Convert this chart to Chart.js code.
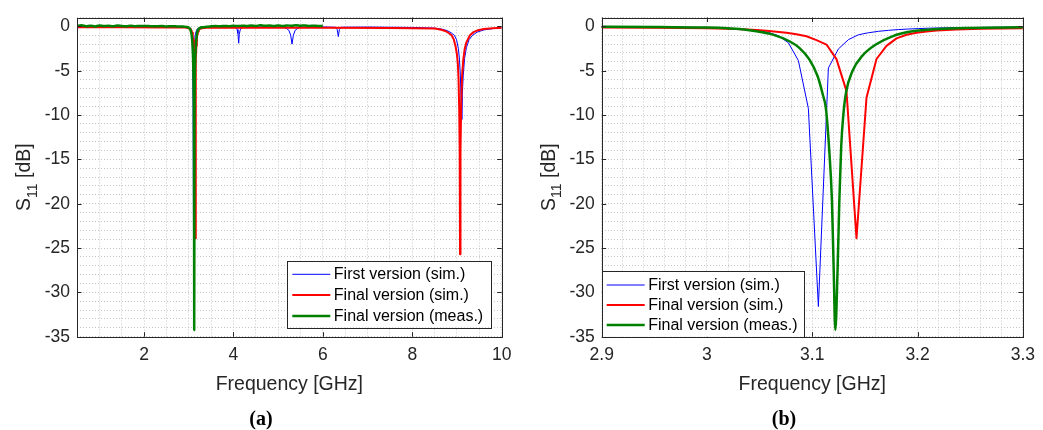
<!DOCTYPE html>
<html><head><meta charset="utf-8">
<script src="https://cdn.jsdelivr.net/npm/chart.js@4"></script>
<style>
html,body{margin:0;padding:0;background:#fff;}
#wrap{position:relative;width:1043px;height:430px;overflow:hidden;background:#fff;}
canvas{position:absolute;top:0;}
.cap{position:absolute;font:bold 20px "Liberation Serif",serif;color:#000;transform:translate(-50%,-50%);white-space:nowrap;}
</style></head><body>
<div id="wrap">
<canvas id="ca" width="520" height="430" style="left:0"></canvas>
<canvas id="cb" width="523" height="430" style="left:520px"></canvas>
<div class="cap" style="left:261px;top:418px">(a)</div>
<div class="cap" style="left:784px;top:418px">(b)</div>
</div>
<script>
// ---------------- DATA ----------------
const seriesNames = ['First version (sim.)', 'Final version (sim.)', 'Final version (meas.)'];

// First version (simulated) – frequency [GHz] and S11 [dB]
const firstSimFreq = [
  0.5, 1.0, 1.5, 2.0, 2.5, 2.8, 2.9, 2.95, 3.0, 3.0108,
  3.0203, 3.0298, 3.0393, 3.0488, 3.0583, 3.0678, 3.0773, 3.0868, 3.0963, 3.1058,
  3.1153, 3.1248, 3.1343, 3.1438, 3.1533, 3.1628, 3.1723, 3.1818, 3.1913, 3.2008,
  3.2103, 3.2198, 3.2293, 3.25, 3.28, 3.31, 3.5, 3.8, 4.0, 4.05,
  4.08, 4.1, 4.117, 4.13, 4.15, 4.18, 4.23, 4.6, 5.1, 5.18,
  5.24, 5.28, 5.31, 5.34, 5.38, 5.44, 5.52, 6.0, 6.28, 6.32,
  6.345, 6.37, 6.41, 7.0, 8.0, 8.5, 8.65, 8.78, 8.87, 8.94,
  8.99, 9.03, 9.055, 9.075, 9.09, 9.106, 9.12, 9.14, 9.17, 9.21,
  9.27, 9.35, 9.45, 9.6, 9.8, 10.0
];
const firstSimDb = [
  -0.02, -0.02, -0.03, -0.03, -0.04, -0.05, -0.05, -0.08, -0.12, -0.16,
  -0.2, -0.27, -0.35, -0.47, -0.68, -1.05, -1.85, -3.85, -9.25, -31.6,
  -4.7, -2.55, -1.5, -0.95, -0.72, -0.56, -0.45, -0.36, -0.3, -0.25,
  -0.21, -0.18, -0.16, -0.13, -0.1, -0.08, -0.05, -0.05, -0.08, -0.15,
  -0.35, -0.8, -1.9, -0.9, -0.4, -0.17, -0.08, -0.06, -0.1, -0.2,
  -0.45, -1.0, -2.0, -1.0, -0.45, -0.2, -0.1, -0.07, -0.1, -0.35,
  -1.15, -0.35, -0.1, -0.08, -0.12, -0.2, -0.3, -0.48, -0.72, -1.0,
  -1.5, -2.5, -3.7, -5.5, -8.0, -10.5, -7.5, -5.5, -3.6, -2.4,
  -1.5, -1.0, -0.65, -0.4, -0.25, -0.18
];

// Final version (simulated)
const finalSimFreq = [
  0.5, 1.5, 2.5, 2.9, 2.95, 3.0, 3.028, 3.0375, 3.047, 3.0565,
  3.066, 3.0755, 3.085, 3.0945, 3.104, 3.1135, 3.123, 3.1325, 3.142, 3.1515,
  3.161, 3.1705, 3.18, 3.1895, 3.199, 3.2085, 3.218, 3.2275, 3.237, 3.26,
  3.3, 3.4, 4.5, 6.0, 7.5, 8.0, 8.5, 8.65, 8.75, 8.82,
  8.88, 8.93, 8.97, 9.0, 9.02, 9.035, 9.05, 9.06, 9.068, 9.078,
  9.095, 9.115, 9.14, 9.17, 9.21, 9.29, 9.37, 9.47, 9.6, 9.8,
  10.0
];
const finalSimDb = [
  -0.1, -0.1, -0.12, -0.13, -0.16, -0.2, -0.3, -0.35, -0.42, -0.5,
  -0.6, -0.73, -0.9, -1.12, -1.55, -2.05, -3.7, -7.3, -23.9, -8.05,
  -3.68, -2.2, -1.35, -0.95, -0.72, -0.58, -0.48, -0.4, -0.34, -0.27,
  -0.2, -0.17, -0.16, -0.16, -0.18, -0.2, -0.25, -0.38, -0.55, -0.78,
  -1.0, -1.5, -2.3, -3.2, -4.3, -6.0, -9.5, -14, -25.7, -14,
  -8.5, -5.5, -3.8, -2.6, -1.8, -1.0, -0.65, -0.43, -0.3, -0.2,
  -0.16
];

// Final version (measured)
const finalMeasFreq = [
  0.5, 0.6, 0.7, 0.8, 0.9, 1.0, 1.1, 1.2, 1.3, 1.4,
  1.5, 1.6, 1.7, 1.8, 1.9, 2.0, 2.1, 2.2, 2.3, 2.4,
  2.5, 2.6, 2.7, 2.8, 2.85, 2.9, 2.95, 3.0, 3.02, 3.031,
  3.047, 3.0625, 3.0783, 3.0877, 3.0972, 3.105, 3.1098, 3.113, 3.1162, 3.1187,
  3.1203, 3.1219, 3.1241, 3.1257, 3.1275, 3.1295, 3.132, 3.1383, 3.1477, 3.1604,
  3.1761, 3.1951, 3.22, 3.25, 3.3, 3.4, 3.5, 3.6, 3.7, 3.8,
  3.9, 4.0, 4.1, 4.2, 4.3, 4.4, 4.5, 4.6, 4.7, 4.8,
  4.9, 5.0, 5.1, 5.2, 5.3, 5.4, 5.5, 5.6, 5.7, 5.8,
  5.9, 6.0
];
const finalMeasDb = [
  0.05, 0.12, 0.02, 0.08, -0.01, 0.1, 0.03, 0.07, 0.0, 0.09,
  0.04, 0.02, 0.06, 0.01, 0.05, 0.03, 0.04, 0.0, 0.02, 0.03,
  -0.01, 0.01, 0.0, -0.01, -0.02, -0.03, -0.06, -0.14, -0.22, -0.3,
  -0.56, -0.93, -1.68, -2.43, -3.73, -5.6, -7.6, -9.3, -14.1, -19.7,
  -27.2, -34.25, -27.2, -19.7, -13.5, -10.0, -7.5, -5.0, -3.3, -2.05,
  -1.12, -0.56, -0.3, -0.18, -0.1, -0.05, 0.0, 0.03, 0.01, 0.05,
  0.02, 0.06, 0.03, 0.08, 0.04, 0.1, 0.05, 0.12, 0.06, 0.1,
  0.04, 0.09, 0.05, 0.11, 0.06, 0.14, 0.07, 0.1, 0.05, 0.08,
  0.04, 0.06
];

// Axis ticks
const xMajorA = [2, 4, 6, 8, 10];
const xMajorB = [2.9, 3, 3.1, 3.2, 3.3];
const yMajor = [0, -5, -10, -15, -20, -25, -30, -35];

// ---------------- STYLE / LAYOUT ----------------
const TXT = '#262626';
const GRID = '#c6c6c6';
Chart.defaults.font.family = '"Liberation Sans", Arial, sans-serif';

const styles = [
  {color: '#0000ff', width: 1, legendWidth: 1, order: 3, smooth: false},
  {color: '#ff0000', width: 2, legendWidth: 2, order: 2, smooth: false},
  {color: '#008000', width: 2.5, legendWidth: 2.5, order: 1, smooth: true}
];
const seriesData = [
  [firstSimFreq, firstSimDb],
  [finalSimFreq, finalSimDb],
  [finalMeasFreq, finalMeasDb]
];

function stepTicks(min, max, step) {
  const out = [];
  const n = Math.round((max - min) / step);
  for (let i = 0; i <= n; i++) out.push({value: Math.round((min + i * step) * 10000) / 10000});
  return out;
}
function isMajor(list, v) { return list.some(m => Math.abs(m - v) < 1e-6); }

const framePlugin = {
  id: 'frame',
  afterDraw(chart, args, o) {
    const {ctx, chartArea: a, scales: {x, y}} = chart;
    ctx.save();
    // inward ticks
    ctx.strokeStyle = TXT; ctx.lineWidth = 1; ctx.setLineDash([]);
    ctx.beginPath();
    o.xMajor.forEach(v => {
      const p = Math.round(x.getPixelForValue(v)) + 0.5;
      ctx.moveTo(p, a.bottom); ctx.lineTo(p, a.bottom - 4.5);
      ctx.moveTo(p, a.top); ctx.lineTo(p, a.top + 4.5);
    });
    o.yMajor.forEach(v => {
      const p = Math.round(y.getPixelForValue(v)) + 0.5;
      ctx.moveTo(a.left, p); ctx.lineTo(a.left + 4.5, p);
      ctx.moveTo(a.right, p); ctx.lineTo(a.right - 4.5, p);
    });
    ctx.stroke();

    // legend
    const lg = o.legend;
    ctx.fillStyle = '#fff';
    ctx.fillRect(lg.x, lg.y, lg.w, lg.h);
    ctx.strokeStyle = TXT; ctx.lineWidth = 1;
    ctx.strokeRect(Math.round(lg.x) + 0.5, Math.round(lg.y) + 0.5, Math.round(lg.w), Math.round(lg.h));
    chart.data.datasets.forEach((ds, i) => {
      const yy = lg.y + lg.row0 + i * lg.rowH;
      ctx.strokeStyle = ds.borderColor; ctx.lineWidth = styles[i].legendWidth;
      ctx.beginPath(); ctx.moveTo(lg.x + 5, yy); ctx.lineTo(lg.x + 43, yy); ctx.stroke();
      ctx.fillStyle = '#000';
      ctx.font = '16px "Liberation Sans", Arial, sans-serif';
      ctx.textBaseline = 'middle'; ctx.textAlign = 'left';
      ctx.fillText(ds.label, lg.x + 46.5, yy + 0.5);
    });

    // box
    ctx.strokeStyle = TXT; ctx.lineWidth = 1;
    ctx.strokeRect(Math.round(a.left) + 0.5, Math.round(a.top) + 0.5,
                   Math.round(a.right) - Math.round(a.left), Math.round(a.bottom) - Math.round(a.top));

    // x title
    ctx.fillStyle = TXT;
    ctx.font = '19.5px "Liberation Sans", Arial, sans-serif';
    ctx.textAlign = 'center'; ctx.textBaseline = 'alphabetic';
    ctx.fillText('Frequency [GHz]', (a.left + a.right) / 2, a.bottom + 53);

    // y title S11 [dB] with subscript
    const big = '19.5px "Liberation Sans", Arial, sans-serif';
    const small = '14px "Liberation Sans", Arial, sans-serif';
    ctx.font = big; const w1 = ctx.measureText('S').width; const w3 = ctx.measureText(' [dB]').width;
    ctx.font = small; const w2 = ctx.measureText('11').width;
    const tot = w1 + w2 + w3;
    ctx.translate(a.left - 47, (a.top + a.bottom) / 2);
    ctx.rotate(-Math.PI / 2);
    ctx.textAlign = 'left';
    let cx = -tot / 2;
    ctx.font = big; ctx.fillText('S', cx, 0); cx += w1;
    ctx.font = small; ctx.fillText('11', cx, 6.5); cx += w2;
    ctx.font = big; ctx.fillText(' [dB]', cx, 0);
    ctx.restore();
  }
};

function makeChart(id, cfg) {
  const datasets = seriesNames.map((name, i) => ({
    label: name,
    data: seriesData[i][0].map((f, k) => ({x: f, y: seriesData[i][1][k]})),
    borderColor: styles[i].color,
    backgroundColor: styles[i].color,
    borderWidth: styles[i].width,
    order: styles[i].order,
    pointRadius: 0,
    fill: false,
    tension: 0,
    cubicInterpolationMode: styles[i].smooth ? 'monotone' : 'default',
    borderJoinStyle: 'round',
    clip: 0
  }));
  if (cfg.smoothGreen === false) datasets[2].cubicInterpolationMode = 'default';
  const tickFont = {family: '"Liberation Sans", Arial, sans-serif', size: 17.5};
  return new Chart(document.getElementById(id), {
    type: 'line',
    data: {datasets},
    options: {
      responsive: false,
      animation: false,
      devicePixelRatio: 1,
      layout: {padding: {top: cfg.top, right: cfg.right, bottom: 0, left: 0}},
      plugins: {
        legend: {display: false},
        tooltip: {enabled: false},
        frame: {xMajor: cfg.xMajor, yMajor: yMajor, legend: cfg.legend}
      },
      scales: {
        x: {
          type: 'linear', min: cfg.xMin, max: cfg.xMax,
          afterBuildTicks: s => { s.ticks = stepTicks(cfg.xMin, cfg.xMax, cfg.xStep); },
          afterFit: s => { s.height = 430 - cfg.bottom; },
          grid: {color: GRID, lineWidth: 1, drawTicks: false},
          border: {display: false, dash: [1, 2]},
          ticks: {
            autoSkip: false, maxRotation: 0, minRotation: 0, padding: 8,
            font: tickFont, color: TXT,
            callback: v => isMajor(cfg.xMajor, v) ? String(cfg.xMajor.find(m => Math.abs(m - v) < 1e-6)) : ''
          }
        },
        y: {
          type: 'linear', min: -35, max: 1,
          afterBuildTicks: s => { s.ticks = stepTicks(-35, 1, 1); },
          afterFit: s => { s.width = cfg.left; },
          grid: {color: GRID, lineWidth: 1, drawTicks: false},
          border: {display: false, dash: [1, 2]},
          ticks: {
            autoSkip: false, padding: 7, font: tickFont, color: TXT,
            callback: v => isMajor(yMajor, v) ? String(Math.round(v)) : ''
          }
        }
      }
    },
    plugins: [framePlugin]
  });
}

makeChart('ca', {
  xMin: 0.5, xMax: 10, xStep: 0.5, xMajor: xMajorA,
  top: 12.7, right: 18.3, left: 77, bottom: 336.7,
  legend: {x: 287.3, y: 260.7, w: 203.7, h: 66.6, row0: 13.6, rowH: 20.8}
});
makeChart('cb', {
  xMin: 2.9, xMax: 3.3, xStep: 0.02, xMajor: xMajorB,
  top: 14.3, right: 19, left: 81.7, bottom: 336.7,
  legend: {x: 81.7, y: 270.7, w: 202.3, h: 66, row0: 14.3, rowH: 20}
});
</script>
</body></html>
